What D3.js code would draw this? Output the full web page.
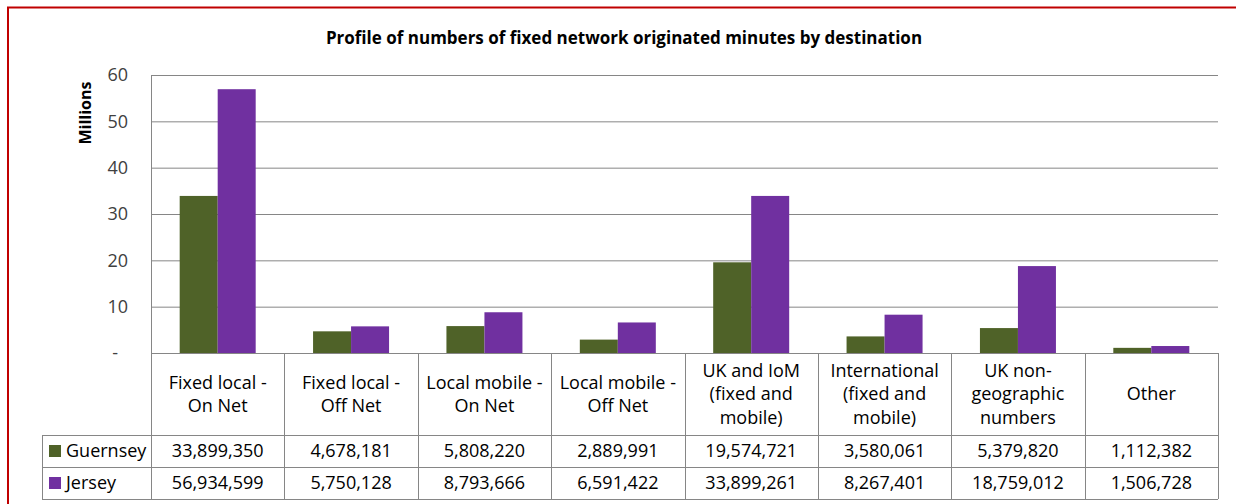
<!DOCTYPE html>
<html>
<head>
<meta charset="utf-8">
<title>Profile of fixed network originated minutes</title>
<script src="https://d3js.org/d3.v7.min.js"></script>
<style>
  body { margin: 0; background: #fff; }
  text { font-family: "Open Sans", "Noto Sans", sans-serif; }
</style>
</head>
<body>
<div id="chart"></div>
<script>
// categories, each split into the lines shown in the table header
var categories = [
	["Fixed local -", "On Net"],
	["Fixed local -", "Off Net"],
	["Local mobile -", "On Net"],
	["Local mobile -", "Off Net"],
	["UK and IoM", "(fixed and", "mobile)"],
	["International", "(fixed and", "mobile)"],
	["UK non-", "geographic", "numbers"],
	["Other"]
];
var seriesNames = ["Guernsey", "Jersey"];
var guernsey = [33899350, 4678181, 5808220, 2889991, 19574721, 3580061, 5379820, 1112382];
var jersey = [56934599, 5750128, 8793666, 6591422, 33899261, 8267401, 18759012, 1506728];
var yTicks = [0, 10, 20, 30, 40, 50, 60];
var colors = ["#4F6228", "#7030A0"];

var W = 1236, H = 504;
var plotLeft = 151, plotRight = 1218, plotTop = 75, zero = 353;
var headerBottom = 435, rowH = 32, tableLeft = 42;
var fs = 18;

var svg = d3.select("#chart").append("svg")
	.attr("width", W)
	.attr("height", H);

// red frame around the whole chart
svg.append("rect")
	.attr("x", 8).attr("y", 7.5)
	.attr("width", W).attr("height", H)
	.attr("fill", "none")
	.attr("stroke", "#C00000")
	.attr("stroke-width", 2);

svg.append("text")
	.attr("x", 624).attr("y", 44)
	.attr("text-anchor", "middle")
	.attr("font-size", 17)
	.attr("font-weight", "bold")
	.attr("fill", "#000")
	.text("Profile of numbers of fixed network originated minutes by destination");

var keys = categories.map(function(d) { return d.join(" "); });
var x = d3.scaleBand().domain(keys).range([plotLeft, plotRight]);
var xs = d3.scaleBand().domain(seriesNames).range([0, x.bandwidth()])
	.paddingInner(0).paddingOuter(0.755);
var y = d3.scaleLinear().domain([0, 60]).range([zero, plotTop]);

// y axis with gridlines
var yAxis = svg.append("g")
	.attr("transform", "translate(" + plotLeft + ",0)")
	.call(d3.axisLeft(y).tickValues(yTicks)
		.tickSize(-(plotRight - plotLeft))
		.tickPadding(23)
		.tickFormat(function(d) { return d === 0 ? "-" : d; }));
yAxis.select(".domain").attr("stroke", "#868686");
yAxis.selectAll(".tick line").attr("stroke", "#868686");
yAxis.selectAll(".tick text")
	.attr("font-size", 18)
	.attr("font-family", "Open Sans")
	.attr("fill", "#404040")
	.attr("dx", function(d) { return d === 0 ? -10 : 0; });

svg.append("text")
	.attr("transform", "translate(91,113) rotate(-90)")
	.attr("text-anchor", "middle")
	.attr("font-size", 16)
	.attr("font-weight", "bold")
	.attr("fill", "#000")
	.text("Millions");

// bars
var series = [guernsey, jersey];
series.forEach(function(vals, si) {
	svg.append("g").selectAll("rect")
		.data(vals)
		.join("rect")
		.attr("x", function(d, i) { return x(keys[i]) + xs(seriesNames[si]); })
		.attr("y", function(d) { return y(d / 1e6); })
		.attr("width", xs.bandwidth())
		.attr("height", function(d) { return zero - y(d / 1e6); })
		.attr("fill", colors[si]);
});

// data table
var grid = "#868686";
var tableBottom = headerBottom + rowH * seriesNames.length;
var tbl = svg.append("g").attr("stroke", grid).attr("stroke-width", 1);
tbl.append("line").attr("x1", plotLeft).attr("x2", plotRight).attr("y1", zero + 0.5).attr("y2", zero + 0.5);
[headerBottom, headerBottom + rowH, tableBottom].forEach(function(yy) {
	tbl.append("line").attr("x1", tableLeft).attr("x2", plotRight)
		.attr("y1", yy + 0.5).attr("y2", yy + 0.5);
});
keys.forEach(function(k) {
	tbl.append("line").attr("x1", Math.round(x(k)) + 0.5).attr("x2", Math.round(x(k)) + 0.5)
		.attr("y1", zero).attr("y2", tableBottom);
});
tbl.append("line").attr("x1", plotRight + 0.5).attr("x2", plotRight + 0.5).attr("y1", zero).attr("y2", tableBottom);
tbl.append("line").attr("x1", tableLeft + 0.5).attr("x2", tableLeft + 0.5).attr("y1", headerBottom).attr("y2", tableBottom);

// header labels
var headerMid = (zero + headerBottom) / 2;
categories.forEach(function(lines, i) {
	var t = svg.append("text")
		.attr("text-anchor", "middle")
		.attr("font-size", fs)
		.attr("fill", "#000");
	lines.forEach(function(line, j) {
		t.append("tspan")
			.attr("x", x(keys[i]) + x.bandwidth() / 2)
			.attr("y", headerMid + (j - (lines.length - 1) / 2) * 23.5)
			.attr("dy", "0.35em")
			.text(line);
	});
});

// rows with legend keys
var fmt = d3.format(",");
series.forEach(function(vals, si) {
	var cy = headerBottom + rowH * si + rowH / 2;
	svg.append("rect")
		.attr("x", 49).attr("y", cy - 6)
		.attr("width", 12).attr("height", 12)
		.attr("fill", colors[si]);
	svg.append("text")
		.attr("x", 66).attr("y", cy).attr("dy", "0.35em")
		.attr("font-size", fs).attr("fill", "#000")
		.text(seriesNames[si]);
	svg.append("g").selectAll("text")
		.data(vals)
		.join("text")
		.attr("x", function(d, i) { return x(keys[i]) + x.bandwidth() / 2; })
		.attr("y", cy).attr("dy", "0.35em")
		.attr("text-anchor", "middle")
		.attr("font-size", fs).attr("fill", "#000")
		.text(function(d) { return fmt(d); });
});
</script>
</body>
</html>
